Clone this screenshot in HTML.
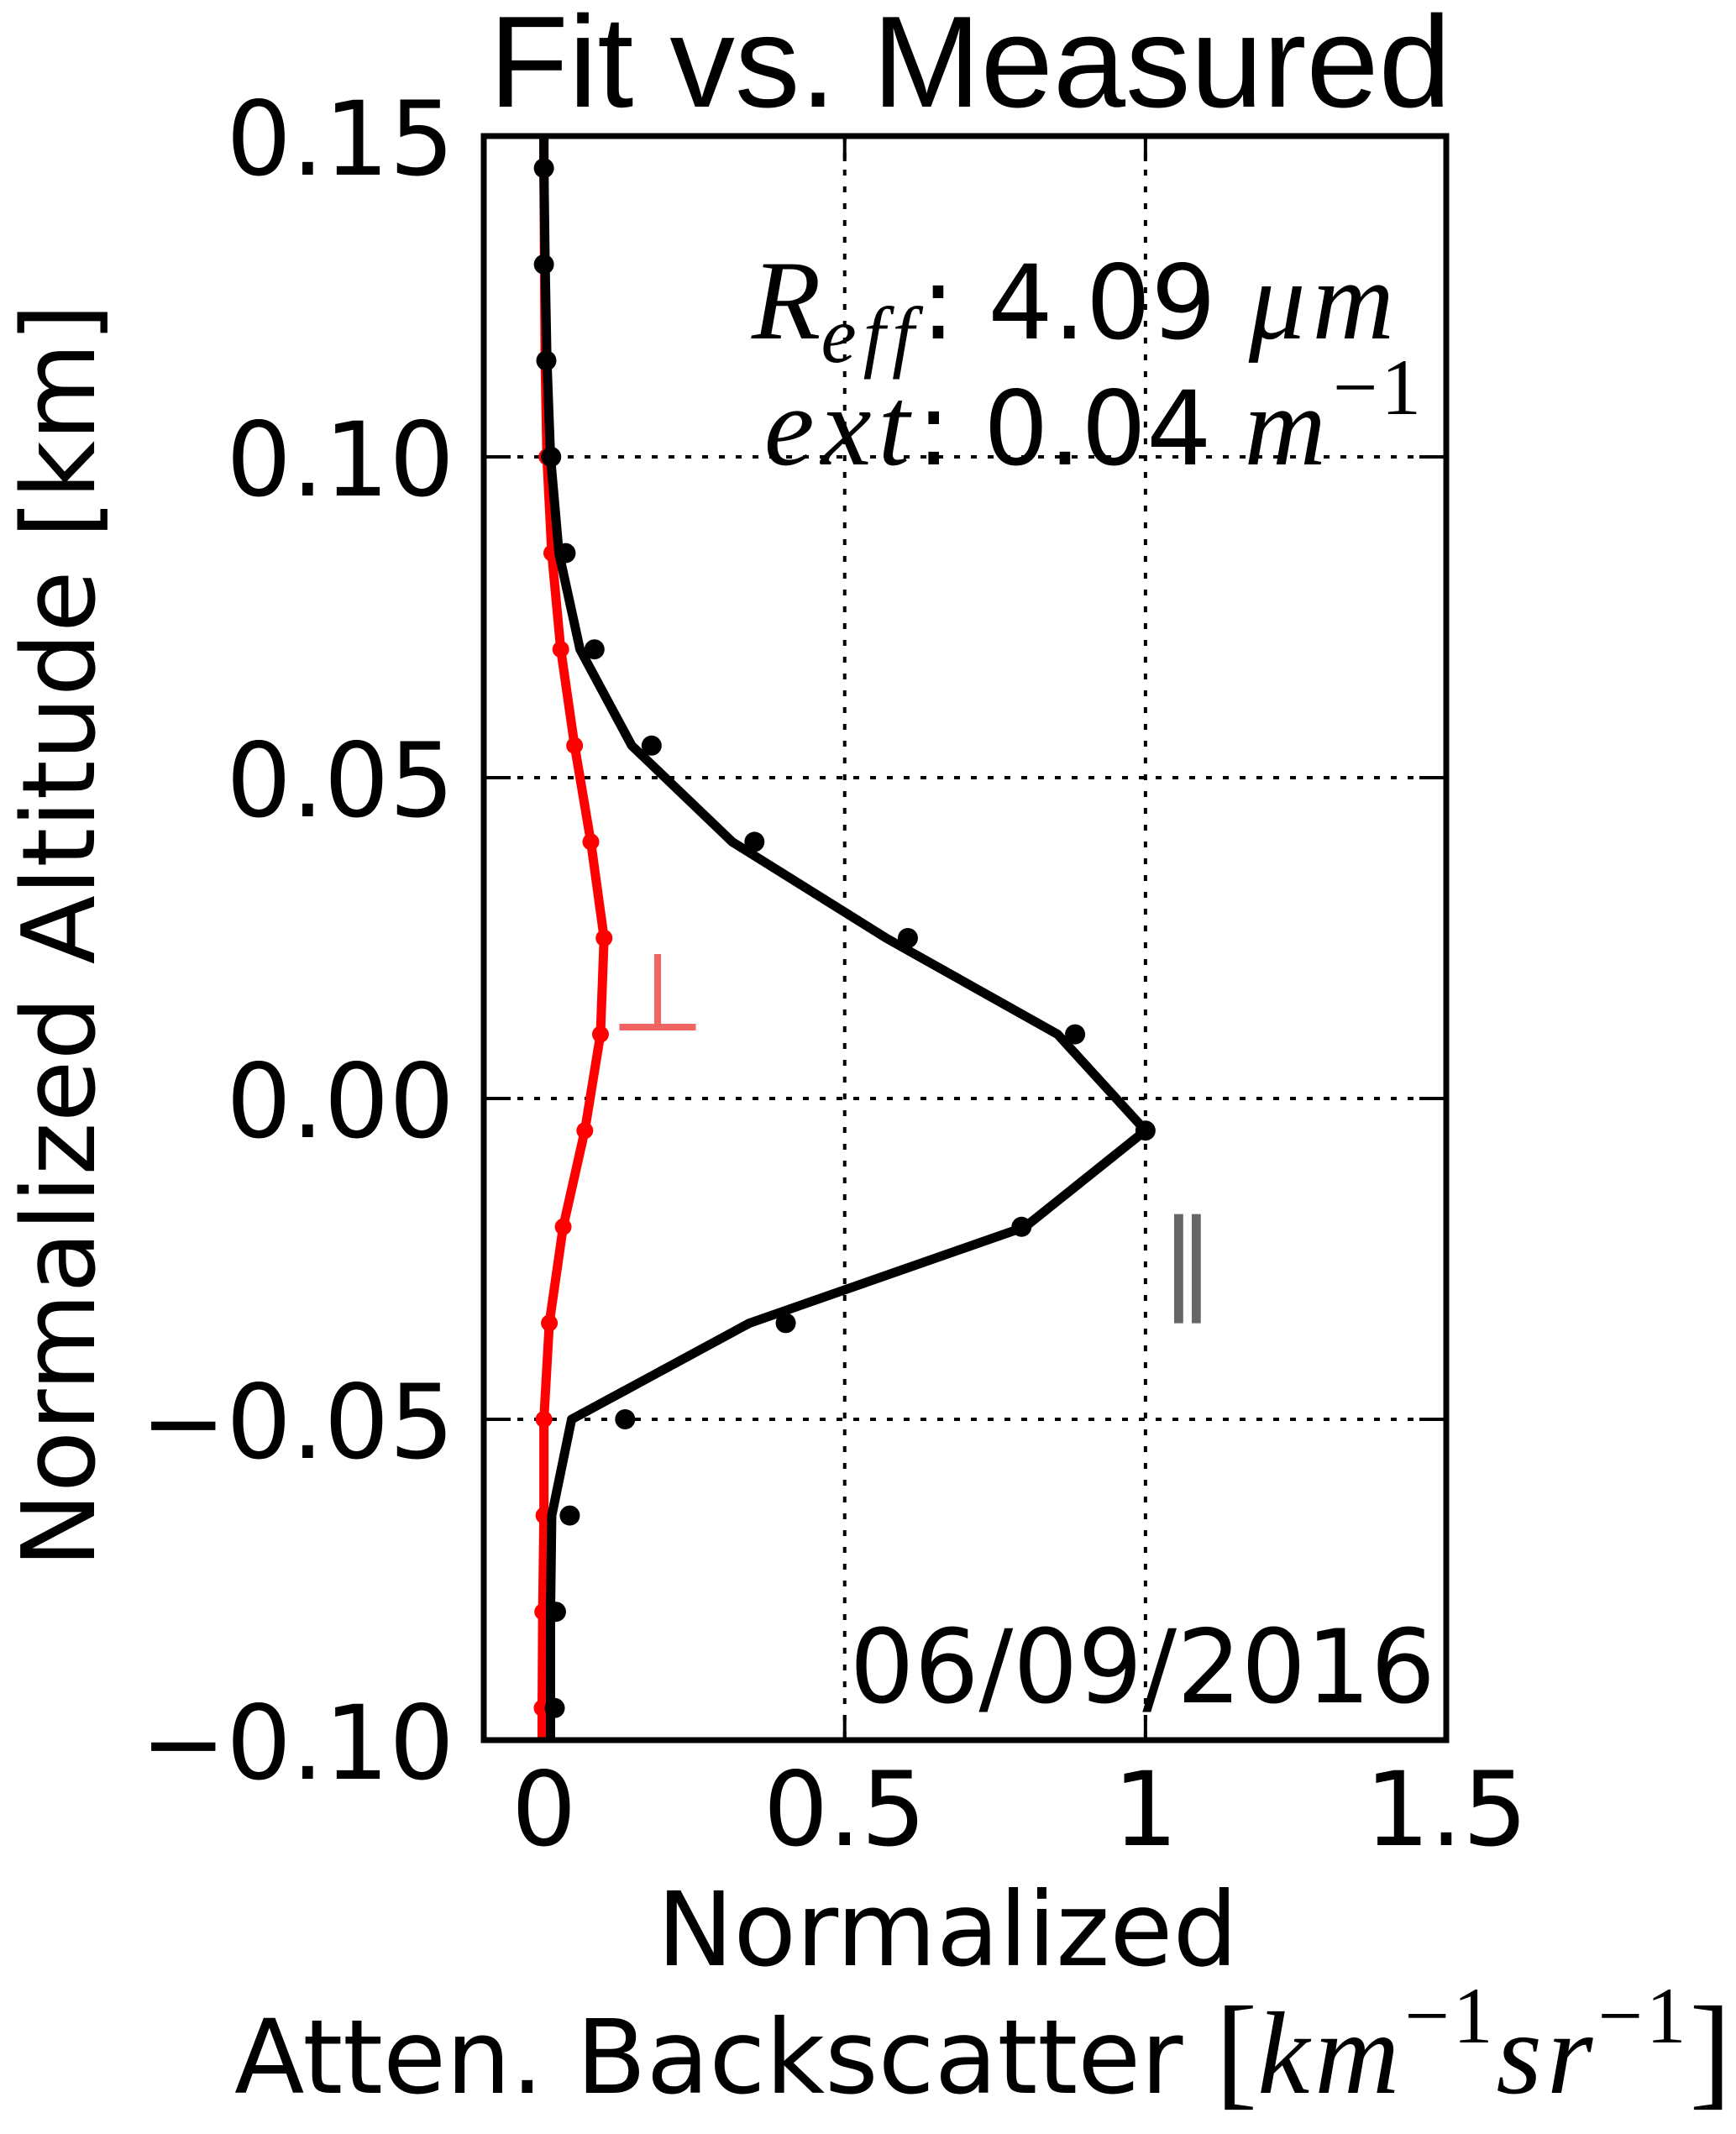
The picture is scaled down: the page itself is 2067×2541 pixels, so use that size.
<!DOCTYPE html>
<html><head><meta charset="utf-8"><style>
html,body{margin:0;padding:0;background:#fff;}
svg{display:block;}
text{font-family:"DejaVu Sans","Liberation Sans",sans-serif;}
</style></head><body>
<svg id="chart" width="2067" height="2541" viewBox="0 0 2067 2541" xmlns="http://www.w3.org/2000/svg">
<rect width="2067" height="2541" fill="#fff"/>
<text x="1155" y="127" text-anchor="middle" font-size="155" style="font-family:'Liberation Sans',sans-serif">Fit vs. Measured</text>
<g id="grid"></g>
<g id="ticks"></g>
<g id="series"></g>
<rect x="576" y="162" width="1146" height="1910" fill="none" stroke="#000" stroke-width="7"/>
<g id="labels" font-size="122"></g>
<text transform="translate(112,1114) rotate(-90)" text-anchor="middle" font-size="120">Normalized Altitude [km]</text>
<text x="1128" y="2340" text-anchor="middle" font-size="122">Normalized</text>
<text x="279" y="2492" font-size="122">Atten. Backscatter <tspan style="font-family:'Liberation Serif',serif" font-size="150">[</tspan><tspan style="font-family:'Liberation Serif',serif;font-style:italic" font-size="140" letter-spacing="6">km</tspan><tspan style="font-family:'Liberation Serif',serif" font-size="95" dy="-60" letter-spacing="4">−1</tspan><tspan style="font-family:'Liberation Serif',serif;font-style:italic" font-size="140" dy="60" letter-spacing="6">sr</tspan><tspan style="font-family:'Liberation Serif',serif" font-size="95" dy="-60" letter-spacing="4">−1</tspan><tspan style="font-family:'Liberation Serif',serif" font-size="150" dy="60">]</tspan></text>
<text x="1668" y="403" text-anchor="end" font-size="122"><tspan style="font-family:'Liberation Serif',serif;font-style:italic" font-size="135">R</tspan><tspan style="font-family:'Liberation Serif',serif;font-style:italic" font-size="95" dy="28" letter-spacing="8">eff</tspan><tspan dy="-28">: 4.09 </tspan><tspan style="font-family:'Liberation Serif',serif;font-style:italic" font-size="135" letter-spacing="8">μm</tspan></text>
<text x="1696" y="553" text-anchor="end" font-size="122"><tspan style="font-family:'Liberation Serif',serif;font-style:italic" font-size="135" letter-spacing="8">ext</tspan><tspan>: 0.04 </tspan><tspan style="font-family:'Liberation Serif',serif;font-style:italic" font-size="135" letter-spacing="8">m</tspan><tspan style="font-family:'Liberation Serif',serif" font-size="95" dy="-60" letter-spacing="4">−1</tspan></text>
<text x="1709" y="2027" text-anchor="end" font-size="121">06/09/2016</text>
<text x="783" y="1227" text-anchor="middle" font-size="130" fill="#f06464">⊥</text>
<text x="1414" y="1545" text-anchor="middle" font-size="130" fill="#666">‖</text>
</svg>
<script>
const altitudes = [0.145,0.13,0.115,0.10,0.085,0.07,0.055,0.04,0.025,0.01,-0.005,-0.02,-0.035,-0.05,-0.065,-0.08,-0.095];
const parMeasured = [0.0,0.0,0.004,0.012,0.036,0.084,0.179,0.35,0.605,0.883,1.0,0.794,0.402,0.135,0.043,0.02,0.018];
const parFit = [0.0,0.002,0.005,0.011,0.025,0.060,0.146,0.313,0.569,0.854,1.0,0.80,0.342,0.046,0.013,0.011,0.011];
const perpFit = [0.0,0.001,0.002,0.005,0.013,0.028,0.051,0.078,0.10,0.094,0.068,0.032,0.009,0.0,0.0,-0.002,-0.003];
const xTicks = [0,0.5,1,1.5];
const xTickLabels = ["0","0.5","1","1.5"];
const yTicks = [0.15,0.10,0.05,0.00,-0.05,-0.10];
const yTickLabels = ["0.15","0.10","0.05","0.00","−0.05","−0.10"];
const X0=576,X1=1722,Y0=162,Y1=2072,XMIN=-0.1,XMAX=1.5,YMIN=-0.1,YMAX=0.15;
const sx=v=>X0+(v-XMIN)/(XMAX-XMIN)*(X1-X0);
const sy=v=>Y1-(v-YMIN)/(YMAX-YMIN)*(Y1-Y0);
const NS="http://www.w3.org/2000/svg";
function mk(tag,attrs,parent){const e=document.createElementNS(NS,tag);for(const k in attrs)e.setAttribute(k,attrs[k]);parent.appendChild(e);return e;}
const grid=document.getElementById('grid'),ticks=document.getElementById('ticks'),series=document.getElementById('series'),labels=document.getElementById('labels');
xTicks.forEach((t,i)=>{const x=sx(t);
 if(t>0&&t<1.5){const g=mk('line',{x1:x,x2:x,y1:Y0,y2:Y1,stroke:'#000','stroke-width':4,'stroke-dasharray':'7 13'},grid);
 
 }
 const a=mk('line',{x1:x,x2:x,y1:Y1,y2:Y1-30,stroke:'#000','stroke-width':4},ticks);
 
 
 const b=mk('line',{x1:x,x2:x,y1:Y0,y2:Y0+30,stroke:'#000','stroke-width':4},ticks);
 
 
 const l=mk('text',{x:x,y:2197,'text-anchor':'middle'},labels);l.textContent=xTickLabels[i];
 
 
});
yTicks.forEach((t,i)=>{const y=sy(t);
 if(t<0.15&&t>-0.1){const g=mk('line',{x1:X0,x2:X1,y1:y,y2:y,stroke:'#000','stroke-width':4,'stroke-dasharray':'7 13'},grid);
 
 }
 const a=mk('line',{x1:X0,x2:X0+32,y1:y,y2:y,stroke:'#000','stroke-width':4},ticks);
 
 
 const b=mk('line',{x1:X1,x2:X1-32,y1:y,y2:y,stroke:'#000','stroke-width':4},ticks);
 
 
 const l=mk('text',{x:541,y:y+46,'text-anchor':'end'},labels);l.textContent=yTickLabels[i];
 
 
});
function linePts(vals){const pts=[[sx(vals[0]),Y0]];altitudes.forEach((a,i)=>pts.push([sx(vals[i]),sy(a)]));pts.push([sx(vals[vals.length-1]),Y1]);return pts.map(p=>p.join(',')).join(' ');}
const rl=mk('polyline',{points:linePts(perpFit),fill:'none',stroke:'#ff0000','stroke-width':11,'stroke-linejoin':'round'},series);


perpFit.forEach((v,i)=>{const c=mk('circle',{cx:sx(v),cy:sy(altitudes[i]),r:10,fill:'#ff0000'},series);
 
 });
const bl=mk('polyline',{points:linePts(parFit),fill:'none',stroke:'#000','stroke-width':11,'stroke-linejoin':'round'},series);


parMeasured.forEach((v,i)=>{const c=mk('circle',{cx:sx(v),cy:sy(altitudes[i]),r:12,fill:'#000'},series);
 
 });
</script>
</body></html>
